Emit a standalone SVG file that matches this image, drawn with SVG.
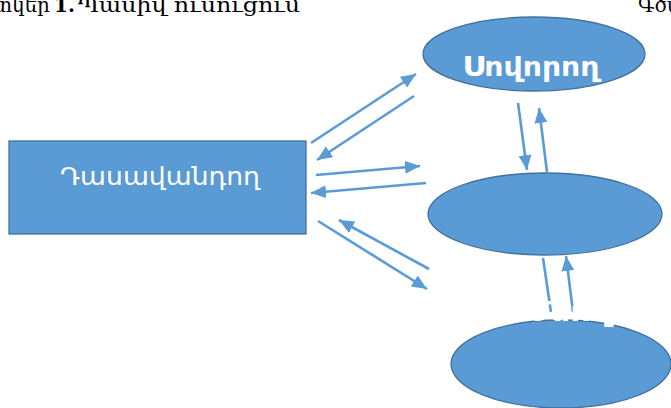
<svg xmlns="http://www.w3.org/2000/svg" width="671" height="408" viewBox="0 0 671 408">
<defs>
<style>
.shape{fill:#5B9BD5;stroke:#41719C;stroke-width:1.3}
.lbl{fill:#ffffff;font-family:"Noto Sans","DejaVu Sans",sans-serif}
.cap{fill:#000;font-family:"DejaVu Serif","Noto Serif",serif;font-size:20px}
.con{stroke:#5B9BD5;stroke-width:2.6;fill:none;marker-end:url(#ah)}
</style>
<marker id="ah" markerUnits="userSpaceOnUse" markerWidth="15" markerHeight="13" refX="15" refY="6.5" orient="auto">
<path d="M0,0 L15,6.5 L0,13 z" fill="#5B9BD5"/>
</marker>
</defs>
<rect width="671" height="408" fill="#ffffff"/>
<g id="caption">
<text class="cap" x="50" y="12" text-anchor="end">Գծապատկեր</text>
<text class="cap" x="54" y="12" font-weight="bold">1.</text>
<text class="cap" x="78" y="12" textLength="222" lengthAdjust="spacingAndGlyphs">Պասիվ ուսուցում</text>
<text class="cap" x="638" y="12">Գծապատկեր 2.</text>
</g>
<g id="teacher">
<rect class="shape" x="9" y="141" width="297" height="93"/>
<text class="lbl" x="160" y="185" font-size="24" text-anchor="middle" textLength="200" lengthAdjust="spacingAndGlyphs">Դասավանդող</text>
</g>
<g id="student">
<ellipse class="shape" cx="534" cy="54" rx="111" ry="37"/>
<text class="lbl" x="531" y="76" font-size="27" font-weight="bold" text-anchor="middle" textLength="137" lengthAdjust="spacingAndGlyphs">Սովորող</text>
</g>
<g id="middle">
<ellipse class="shape" cx="545" cy="214" rx="117" ry="41"/>
</g>
<g id="bottom">
<ellipse class="shape" cx="561" cy="364" rx="110" ry="44"/>
</g>
<g id="connectors">
<line class="con" x1="311" y1="143" x2="416" y2="74"/>
<line class="con" x1="414" y1="96" x2="317" y2="160"/>
<line class="con" x1="316" y1="175" x2="420" y2="166"/>
<line class="con" x1="426" y1="183" x2="311" y2="193"/>
<line class="con" x1="429" y1="269" x2="339" y2="220"/>
<line class="con" x1="318" y1="221" x2="427" y2="289"/>
<line class="con" x1="518" y1="103" x2="527" y2="170"/>
<line class="con" x1="547" y1="172" x2="539" y2="108"/>
<line stroke="#5B9BD5" stroke-width="2.6" x1="543" y1="258" x2="551" y2="312"/>
<line class="con" x1="573" y1="312" x2="566" y2="256"/>
</g>
<g id="bottom-label">
<text class="lbl" x="568" y="321" font-size="26" font-weight="bold" text-anchor="middle" textLength="87" lengthAdjust="spacingAndGlyphs">Ծնող</text>
</g>
</svg>
